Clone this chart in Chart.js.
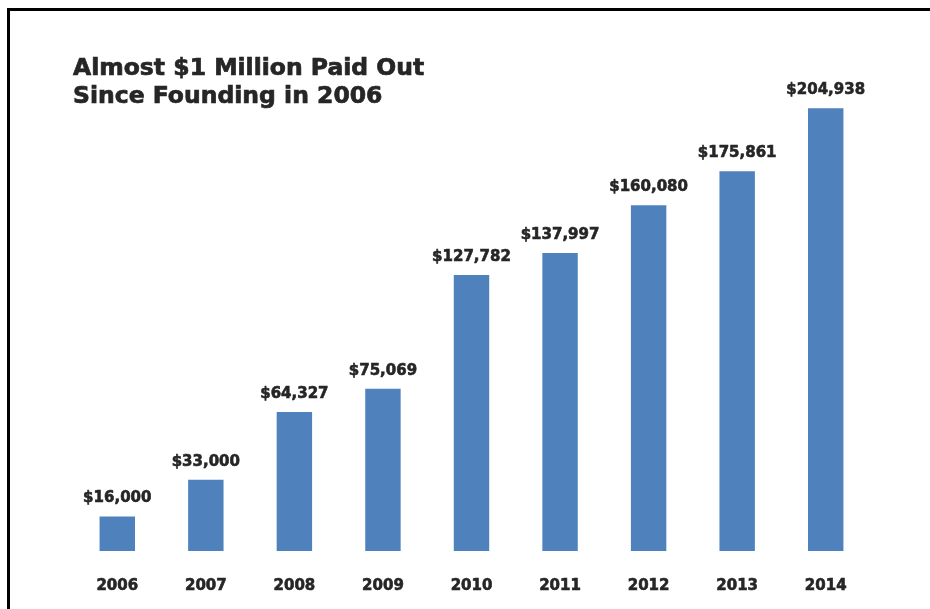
<!DOCTYPE html>
<html>
<head>
<meta charset="utf-8">
<script src="https://cdn.jsdelivr.net/npm/chart.js@4/dist/chart.umd.min.js"></script>
<style>
  html, body { margin: 0; padding: 0; background: #fff; }
  #wrap { position: relative; width: 930px; height: 609px; overflow: hidden; }
  #frame { position: absolute; left: 7px; top: 8px; width: 940px; height: 620px;
           border-left: 3px solid #000; border-top: 3px solid #000; box-sizing: border-box; }
  #title { position: absolute; left: 73px; top: 53px; font: bold 23.5px "DejaVu Sans", sans-serif;
           line-height: 28px; color: #262626; white-space: nowrap; -webkit-text-stroke: 0.7px #262626; }
  canvas { position: absolute; left: 0; top: 0; }
</style>
</head>
<body>
<div id="wrap">
  <canvas id="c" width="930" height="609"></canvas>
  <div id="frame"></div>
  <div id="title">Almost $1 Million Paid Out<br>Since Founding in 2006</div>
</div>
<script>
const categories = ["2006", "2007", "2008", "2009", "2010", "2011", "2012", "2013", "2014"];
const paidOut = [16000, 33000, 64327, 75069, 127782, 137997, 160080, 175861, 204938];

const valueLabels = {
  id: 'valueLabels',
  afterDatasetsDraw(chart) {
    const ctx = chart.ctx;
    const meta = chart.getDatasetMeta(0);
    ctx.save();
    ctx.font = 'bold 15px "DejaVu Sans", sans-serif';
    ctx.fillStyle = '#262626';
    ctx.strokeStyle = '#262626';
    ctx.lineWidth = 0.6;
    ctx.textAlign = 'center';
    ctx.textBaseline = 'alphabetic';
    meta.data.forEach((bar, i) => {
      const v = chart.data.datasets[0].data[i];
      const t = '$' + v.toLocaleString('en-US');
      ctx.fillText(t, bar.x, bar.y - 14);
      ctx.strokeText(t, bar.x, bar.y - 14);
    });
    ctx.restore();
  }
};

new Chart(document.getElementById('c'), {
  type: 'bar',
  data: {
    labels: categories,
    datasets: [{
      data: paidOut,
      backgroundColor: '#4F81BD',
      borderWidth: 0,
      categoryPercentage: 1,
      barPercentage: 0.40
    }]
  },
  options: {
    responsive: false,
    animation: false,
    devicePixelRatio: 1,
    layout: { padding: { left: 73, right: 60, top: 11, bottom: 0 } },
    plugins: { legend: { display: false }, tooltip: { enabled: false }, title: { display: false } },
    scales: {
      x: {
        grid: { display: false, drawTicks: false },
        border: { display: false },
        ticks: {
          padding: 26, color: '#262626',
          textStrokeColor: '#262626', textStrokeWidth: 0.6,
          font: { family: 'DejaVu Sans', size: 15, weight: 'bold' }
        },
        afterFit(scale) { scale.height = 58; }
      },
      y: {
        display: false,
        min: 0,
        max: 250000
      }
    }
  },
  plugins: [valueLabels]
});
</script>
</body>
</html>
